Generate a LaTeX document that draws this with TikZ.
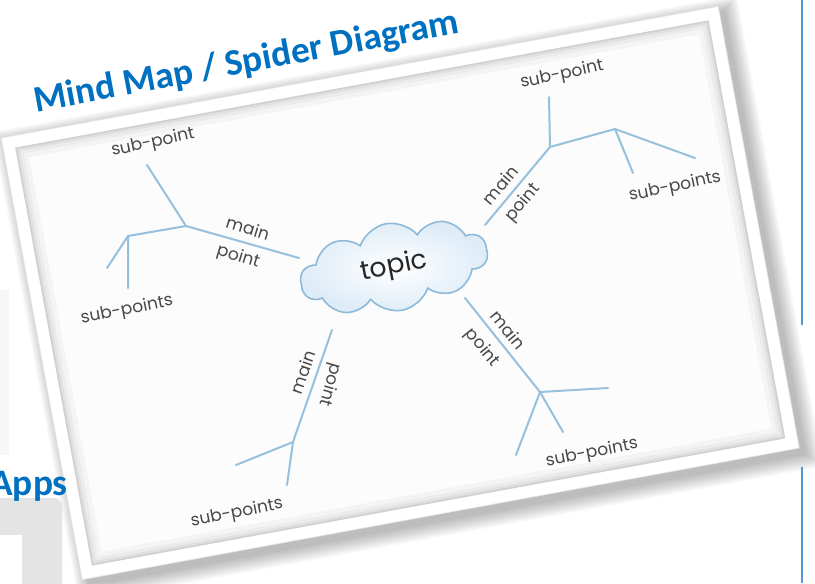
\documentclass[tikz,border=0pt]{standalone}
\usepackage{fontspec}
\setmainfont{Carlito}
\newfontfamily\hand{Poppins}
\usetikzlibrary{shapes.symbols}
\definecolor{titleblue}{RGB}{0,112,192}
\definecolor{branch}{RGB}{150,192,220}
\definecolor{cloudline}{RGB}{140,186,216}
\definecolor{cloudfill}{RGB}{222,236,247}
\definecolor{labelgray}{RGB}{72,72,72}
\definecolor{boxgray}{RGB}{228,228,228}
\definecolor{rulecol}{RGB}{85,150,220}
\begin{document}
\begin{tikzpicture}[x=0.75pt,y=-0.75pt,
  branchline/.style={draw=branch, line width=1.5pt, line cap=round, line join=round},
  lbl/.style={font=\hand\fontsize{12.8}{14}\selectfont, text=labelgray, inner sep=0pt},
  heading/.style={text=titleblue, font=\bfseries\fontsize{28}{30}\selectfont, inner sep=0pt}
]
\useasboundingbox (0,0) rectangle (815,583);
\clip (0,0) rectangle (815,583);
\fill[white] (0,0) rectangle (815,583);

% right rule
\draw[rulecol, line width=1.5pt] (802,0) -- (802,325);
\draw[rulecol, line width=1.5pt] (802,467) -- (802,583);

% left faint band and grey box
\fill[black!3] (0,290) rectangle (9,455);
\fill[boxgray] (-10,600) -- (-10,498) [rounded corners=6pt] -- (62,498) -- (62,600) [sharp corners] -- cycle;
\fill[white] (-10,535) rectangle (22,600);

% card
\begin{scope}[shift={(400.25,293)}, rotate=10.4]
  \foreach \i in {0,...,9}
    \fill[black, opacity=0.026] (-364.5+5-\i*1.4, -224.5+5-\i*1.4) rectangle (364.5+6+\i*1.6, 224.5+8+\i*1.6);
  \fill[white] (-364.5,-224.5) rectangle (364.5,224.5);
  \draw[black!10, line width=0.5pt] (-364.5,-224.5) rectangle (364.5,224.5);
  \fill[black!1] (-352.5,-212.5) rectangle (352.5,212.5);
  \begin{scope}
    \clip (-352.5,-212.5) rectangle (352.5,212.5);
    \draw[black, opacity=0.03, line width=18pt] (-352.5,-212.5) rectangle (352.5,212.5);
    \draw[black, opacity=0.035, line width=11pt] (-352.5,-212.5) rectangle (352.5,212.5);
    \draw[black, opacity=0.045, line width=6pt] (-352.5,-212.5) rectangle (352.5,212.5);
    \draw[black, opacity=0.07, line width=2.5pt] (-352.5,-212.5) rectangle (352.5,212.5);
  \end{scope}
\end{scope}

% titles
\node[heading, anchor=base, rotate=10.6] (title) at (248.5,72.5) {Mind Map / Spider Diagram};
\node[heading, anchor=base east] (apps) at (68,495) {Apps};

% topic cloud
\node[cloud, cloud puffs=10, cloud puff arc=120, cloud ignores aspect,
      minimum width=142pt, minimum height=66pt, rotate=11,
      draw=cloudline, line width=1.2pt, inner color=white, outer color=cloudfill,
      font=\hand\fontsize{20}{22}\selectfont, text=black!85] (topic) at (394,267) {topic};

% branch coordinates
\coordinate (tl) at (299,258);
\coordinate (J1) at (186,226);
\coordinate (T1) at (147,165);
\coordinate (K1) at (128,236);
\coordinate (K1a) at (128,288);
\coordinate (K1b) at (107,268);

\coordinate (tr) at (485,225);
\coordinate (J2) at (550,147);
\coordinate (T2) at (549,97);
\coordinate (K2) at (615,129);
\coordinate (K2a) at (633,173);
\coordinate (K2b) at (695,158);

\coordinate (tbr) at (465,298);
\coordinate (J3) at (540,392);
\coordinate (J3a) at (608,388);
\coordinate (J3b) at (563,432);
\coordinate (J3c) at (516,455);

\coordinate (tb) at (332,330);
\coordinate (J4) at (293,442);
\coordinate (J4a) at (287,485);
\coordinate (J4b) at (236,465);

\draw[branchline] (tl) -- (J1) -- (T1);
\draw[branchline] (J1) -- (K1) -- (K1a);
\draw[branchline] (K1) -- (K1b);

\draw[branchline] (tr) -- (J2) -- (T2);
\draw[branchline] (J2) -- (K2) -- (K2a);
\draw[branchline] (K2) -- (K2b);

\draw[branchline] (tbr) -- (J3) -- (J3b);
\draw[branchline] (J3) -- (J3a);
\draw[branchline] (J3) -- (J3c);

\draw[branchline] (tb) -- (J4) -- (J4a);
\draw[branchline] (J4) -- (J4b);

% labels
\node[lbl, rotate=12] (sp1) at (153,143) {sub-point};
\node[lbl, rotate=11] (sps1) at (127,310) {sub-points};
\node[lbl, rotate=-17] (m1) at (248,228) {main};
\node[lbl, rotate=-17] (p1) at (238,257) {point};

\node[lbl, rotate=12] (sp2) at (562,75) {sub-point};
\node[lbl, rotate=12] (sps2) at (675,187) {sub-points};
\node[lbl, rotate=50] (m2) at (500,185) {main};
\node[lbl, rotate=50] (p2) at (523,203) {point};

\node[lbl, rotate=-51] (m3) at (508,330) {main};
\node[lbl, rotate=-51] (p3) at (482,348) {point};
\node[lbl, rotate=11] (sps3) at (592,453) {sub-points};

\node[lbl, rotate=71] (m4) at (303,372) {main};
\node[lbl, rotate=-106] (p4) at (330,385) {point};
\node[lbl, rotate=11] (sps4) at (237,513) {sub-points};
\end{tikzpicture}
\end{document}
